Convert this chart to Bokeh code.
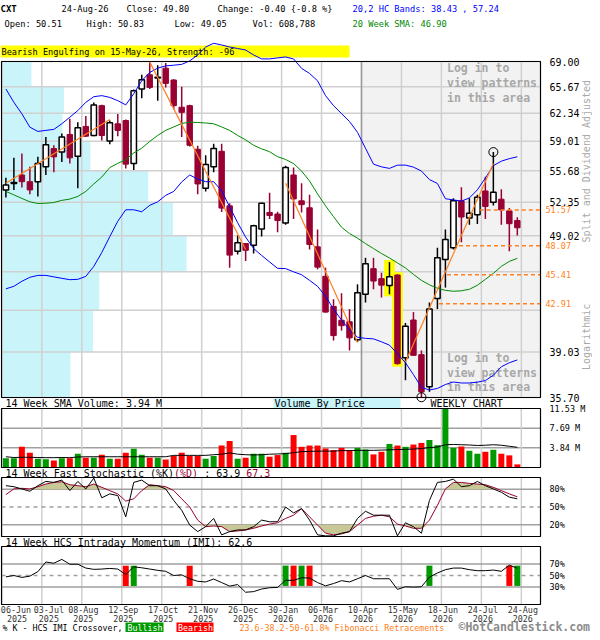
import math
from bokeh.plotting import figure
from bokeh.models import Range1d, ColumnDataSource, LinearScale
from bokeh.embed import file_html
from bokeh.resources import INLINE
from bokeh.core.properties import value

MONO = "DejaVu Sans Mono"

# ---------------- data ----------------
symbol = "CXT"
last_date = "24-Aug-26"
date_labels = ["06-Jun\n2025", "03-Jul\n2025", "08-Aug\n2025", "12-Sep\n2025", "17-Oct\n2025",
               "21-Nov\n2025", "26-Dec\n2025", "30-Jan\n2026", "06-Mar\n2026", "10-Apr\n2026",
               "15-May\n2026", "18-Jun\n2026", "24-Jul\n2026", "24-Aug\n2026"]
weeks = list(range(65))

open_ = [53.64, 54.32, 55.23, 54.51, 54.51, 56.13, 58.17, 57.78, 59.80, 57.30,
         60.75, 59.68, 63.28, 59.03, 61.06, 61.46, 56.49, 65.38, 67.22, 66.80,
         68.10, 66.54, 63.08, 63.28, 58.09, 53.82, 56.13, 57.86, 51.99, 47.56,
         48.28, 48.12, 49.69, 51.32, 51.16, 50.26, 55.23, 52.50, 51.79, 47.97,
         45.28, 42.68, 41.54, 41.42, 39.99, 43.71, 45.96, 45.07, 44.47, 45.39,
         38.59, 41.56, 38.83, 36.46, 43.35, 46.80, 47.88, 52.50, 50.76, 51.08,
         53.53, 52.36, 52.67, 51.48, 50.51]
high = [54.94, 57.12, 57.60, 56.13, 57.23, 59.51, 58.54, 59.90, 61.66, 61.26,
        62.00, 63.68, 63.40, 61.46, 62.26, 61.58, 65.30, 67.22, 68.90, 68.50,
        68.80, 66.63, 65.67, 63.40, 58.50, 57.40, 58.73, 58.73, 52.26, 49.04,
        48.33, 50.10, 52.30, 53.35, 51.39, 56.24, 56.06, 54.34, 53.12, 49.62,
        46.05, 43.29, 43.80, 42.46, 44.57, 46.95, 46.95, 45.60, 46.56, 45.45,
        41.32, 42.21, 39.15, 43.01, 47.88, 49.62, 52.78, 53.91, 52.78, 53.12,
        55.05, 57.77, 53.71, 51.76, 50.83]
low = [52.84, 53.64, 53.88, 53.19, 52.94, 55.23, 55.52, 56.67, 56.49, 53.81,
       59.51, 59.60, 59.11, 58.65, 59.58, 55.95, 55.77, 64.19, 65.38, 63.90,
       65.58, 62.80, 59.51, 58.40, 53.19, 53.46, 55.52, 51.36, 46.05, 47.26,
       46.65, 47.35, 48.96, 50.66, 49.36, 50.10, 50.66, 51.32, 47.72, 45.90,
       42.17, 39.92, 40.70, 39.15, 39.79, 43.01, 44.14, 43.43, 43.71, 38.08,
       36.93, 38.76, 35.72, 36.10, 42.46, 44.29, 47.72, 48.41, 50.10, 50.17,
       50.66, 52.03, 50.10, 47.56, 49.05]
close = [54.16, 54.43, 54.51, 53.64, 56.49, 58.62, 57.23, 59.51, 57.12, 60.60,
         59.60, 63.36, 59.68, 61.18, 60.28, 56.42, 65.16, 66.57, 65.58, 66.90,
         66.10, 63.28, 62.45, 58.54, 54.27, 56.39, 58.17, 51.76, 47.20, 48.35,
         47.65, 50.00, 52.26, 51.02, 50.52, 56.06, 52.70, 52.11, 48.20, 46.10,
         42.21, 40.31, 41.10, 40.13, 43.85, 46.41, 44.86, 44.50, 45.25, 38.15,
         41.06, 38.78, 36.10, 42.46, 46.95, 48.66, 52.50, 50.86, 51.25, 52.88,
         51.93, 53.39, 51.58, 50.20, 49.80]
band_upper = [65.38, 63.69, 62.27, 60.66, 60.16, 60.28, 60.40, 61.07, 61.86, 62.67,
              63.69, 64.40, 64.53, 64.31, 63.90, 63.37, 64.78, 66.44, 67.53, 68.11,
              68.41, 68.50, 68.61, 69.08, 69.89, 70.99, 71.51, 71.27, 70.99, 70.78,
              70.57, 69.89, 69.35, 69.35, 69.49, 69.62, 69.35, 68.08, 67.40, 66.44,
              64.53, 63.28, 62.30, 61.34, 60.05, 58.21, 56.42, 56.12, 55.95, 56.31,
              56.31, 56.09, 55.66, 54.74, 54.32, 52.72, 52.60, 52.47, 52.80, 53.64,
              54.90, 56.25, 56.75, 57.03, 57.24]
band_lower = [44.18, 44.40, 44.84, 45.19, 45.36, 45.36, 45.23, 45.10, 44.98, 45.01,
              45.27, 46.17, 47.44, 48.94, 50.44, 51.59, 51.59, 51.39, 52.04, 52.40,
              53.07, 53.48, 54.48, 55.23, 54.80, 54.51, 54.51, 53.54, 51.89, 50.30,
              48.90, 47.81, 47.17, 46.57, 45.99, 45.97, 45.68, 45.42, 44.92, 44.40,
              43.54, 42.46, 41.56, 40.76, 40.18, 40.09, 40.05, 39.82, 39.56, 38.90,
              38.22, 37.34, 36.41, 36.23, 36.34, 36.62, 36.80, 36.73, 36.73, 36.79,
              36.91, 37.29, 37.92, 38.22, 38.43]
sma20 = [53.48, 53.12, 52.75, 52.40, 52.23, 52.26, 52.33, 52.55, 52.68, 52.96,
         53.48, 54.27, 55.01, 56.04, 56.50, 56.92, 57.67, 58.21, 58.99, 59.69,
         60.28, 60.69, 61.10, 61.26, 61.22, 61.16, 61.07, 60.69, 60.28, 59.69,
         59.17, 58.54, 58.14, 57.81, 57.25, 56.94, 56.48, 55.66, 54.58, 53.22,
         51.99, 50.89, 49.86, 49.24, 48.80, 48.28, 47.81, 47.35, 46.94, 46.48,
         46.03, 45.45, 44.92, 44.53, 44.23, 44.05, 43.97, 44.01, 44.14, 44.49,
         45.01, 45.54, 46.17, 46.62, 46.90]
volume_m = [1.79, 1.79, 4.04, 2.88, 1.73, 1.60, 1.35, 1.79, 1.79, 2.69,
            1.92, 1.92, 2.50, 1.73, 1.73, 2.88, 3.65, 2.50, 1.92, 1.92,
            1.54, 2.24, 2.88, 2.24, 2.24, 1.73, 2.24, 4.29, 5.19, 1.73,
            1.92, 2.69, 2.69, 2.11, 2.43, 2.88, 6.34, 4.04, 4.29, 4.29,
            3.72, 3.40, 3.84, 3.40, 3.84, 3.52, 2.56, 3.07, 4.61, 4.29,
            4.04, 4.48, 4.80, 5.38, 4.36, 11.45, 3.84, 4.10, 3.27, 2.69,
            3.07, 3.46, 2.69, 2.37, 0.608788]
vol_sma14 = [2.10, 1.95, 2.00, 2.00, 1.95, 1.92, 1.92, 1.95, 1.92, 2.05,
             2.10, 2.10, 2.10, 2.10, 2.10, 2.10, 2.10, 2.10, 2.10, 2.10,
             2.10, 2.37, 2.37, 2.37, 2.37, 2.37, 2.50, 2.60, 2.85, 2.60,
             2.50, 2.45, 2.50, 2.60, 2.65, 2.70, 2.90, 3.10, 3.15, 3.20,
             3.20, 3.20, 3.30, 3.30, 3.35, 3.35, 3.35, 3.40, 3.45, 3.50,
             3.55, 3.60, 3.70, 3.90, 4.00, 4.45, 4.50, 4.45, 4.40, 4.30,
             4.35, 4.45, 4.35, 4.15, 3.94]
stoch_k = [86.1, 84.4, 80.6, 76.7, 86.1, 93.3, 91.7, 95.6, 77.8, 93.3,
           80.6, 98.9, 65.6, 72.2, 69.4, 33.3, 91.7, 95.6, 86.1, 86.1,
           80.6, 61.1, 44.4, 19.4, 8.3, 16.7, 30.6, 2.8, 8.3, 11.1,
           11.1, 16.7, 27.8, 25.0, 25.0, 50.0, 40.0, 47.2, 27.8, 2.8,
           1.1, 1.1, 5.6, 8.3, 30.6, 42.8, 36.1, 36.1, 36.1, 1.1,
           23.3, 16.7, 5.6, 61.1, 91.7, 93.3, 97.2, 84.4, 86.1, 93.3,
           86.1, 80.6, 75.0, 66.7, 63.9]
stoch_d = [71.1, 80.6, 81.7, 80.6, 84.4, 88.9, 91.7, 92.8, 87.8, 86.1,
           84.4, 88.9, 83.3, 77.8, 72.2, 60.0, 63.9, 77.8, 87.8, 86.1,
           84.4, 77.8, 63.9, 50.0, 27.8, 16.7, 17.8, 16.7, 8.3, 9.4,
           11.1, 13.9, 17.8, 21.1, 23.3, 30.6, 36.1, 47.2, 33.3, 19.4,
           5.6, 2.8, 4.4, 8.3, 19.4, 30.6, 34.4, 36.1, 33.3, 21.1,
           17.8, 13.9, 13.9, 27.8, 52.8, 80.6, 91.7, 91.7, 90.0, 88.9,
           87.8, 83.3, 77.8, 72.2, 67.3]
imi = [47.7, 50.0, 46.7, 48.9, 56.7, 73.3, 71.1, 77.8, 69.4, 69.4,
       62.8, 60.6, 61.1, 62.2, 61.1, 51.7, 65.0, 63.3, 61.1, 58.9,
       57.2, 50.0, 51.1, 44.4, 40.0, 38.9, 43.9, 37.8, 31.7, 34.4,
       21.1, 22.2, 26.7, 28.9, 29.4, 41.7, 41.7, 46.1, 45.6, 37.8,
       32.2, 36.1, 41.1, 38.9, 44.4, 50.0, 44.4, 44.4, 44.4, 26.1,
       30.6, 30.0, 30.6, 47.2, 54.4, 60.0, 62.8, 62.8, 60.0, 58.3,
       58.3, 59.4, 57.2, 67.8, 62.6]
cross_weeks = [15, 16, 23, 35, 36, 37, 38, 53, 63, 64]
cross_kind = ["bear", "bull", "bear", "bull", "bear", "bull", "bear", "bull", "bear", "bull"]

price_ticks = [35.70, 39.03, 42.36, 45.69, 49.02, 52.35, 55.68, 59.01, 62.34, 65.67, 69.00]
hidden_price_ticks = [42.36, 45.69]
vbp_volume_m = [13.1, 17.4, 18.6, 35.2, 32.6, 27.9, 16.9, 11.6, 11.9, 5.7]   # bottom band -> top band
fib_levels = [51.57, 48.07, 45.41, 42.91]
fib_from_week = [59.3, 56.7, 55.2, 54.2]
trend_w0 = [0, 18, 35, 50]
trend_p0 = [54.34, 68.95, 54.34, 38.27]
trend_w1 = [13, 30, 44, 61]
trend_p1 = [61.58, 47.72, 39.79, 56.50]
pattern_weeks = [48, 49]
pattern_text = "Bearish Engulfing on 15-May-26, Strength: -96"
extreme_weeks = [61, 52]
locked_from_week = 44.5
vol_ticks = [3.84, 7.69, 11.53]
sto_ticks = [20, 50, 80]
imi_ticks = [30, 50, 70]

# ---------------- styles / layout ----------------
MAROON = "#990033"
UPV = "#009900"
DNV = "#ff0000"
BLUE = "#0000ff"
GREEN = "#008800"
ORANGE = "#ff8020"
GRID = "#d0d0d0"
DGRID = "#a0a0a0"
CYAN = "#c8f4fa"
KHAKI = "#c8c896"

W, H = 592, 632
BOX_L, BOX_R = 1, 540
PRICE_BOX = (61, 397)
VOL_BOX = (408, 467)
STO_BOX = (477, 536)
IMI_BOX = (546, 604)
X0, X1 = -0.55, 66.9
tick_pos = [5 * k - 0.5 for k in range(len(date_labels))]

upp = (X1 - X0) / (BOX_R - BOX_L)
x_range = Range1d(X0 - BOX_L * upp, X1 + (W - BOX_R) * upp)


def lin_range(v_top, v_bot, box):
    y_top, y_bot = box
    per = (v_top - v_bot) / (y_bot - y_top)
    return Range1d(v_bot - (H - y_bot) * per, v_top + y_top * per)


def log_range(v_top, v_bot, box):
    r = lin_range(math.log(v_top), math.log(v_bot), box)
    return Range1d(math.exp(r.start), math.exp(r.end))


p = figure(width=W, height=H, x_range=x_range,
           y_range=log_range(price_ticks[-1], price_ticks[0], PRICE_BOX),
           x_axis_type=None, y_axis_type="log", y_axis_location=None, title=None,
           toolbar_location=None, output_backend="svg", min_border=0)
p.grid.visible = False
p.outline_line_color = None
p.background_fill_color = "white"
p.border_fill_color = "white"
p.extra_x_ranges = {"px": Range1d(0, W)}
p.extra_x_scales = {"px": LinearScale()}
p.extra_y_ranges = {"px": Range1d(-H, 0),
                    "vol": lin_range(vol_ticks[-1], 0, VOL_BOX),
                    "sto": lin_range(100, 0, STO_BOX),
                    "imi": lin_range(100, 0, IMI_BOX)}
p.extra_y_scales = {"px": LinearScale(), "vol": LinearScale(), "sto": LinearScale(),
                    "imi": LinearScale()}


def txt(x, y, s, size="10px", color="black", bold=False, align="left", baseline="middle",
        angle=0.0, xr="px", yr="px"):
    kw = dict(text_font=value(MONO), text_font_size=size, text_color=color,
              text_font_style="bold" if bold else "normal", text_align=align,
              text_baseline=baseline, angle=angle)
    if xr:
        kw["x_range_name"] = xr
    if yr:
        kw["y_range_name"] = yr
    yy = -y if yr == "px" else y
    p.text(x=[x], y=[yy], text=[s], **kw)


def pxbox(l, r, t, b, color):
    p.quad(left=[l], right=[r], top=[-t], bottom=[-b], fill_color=color, line_color=None,
           x_range_name="px", y_range_name="px")


# ---------------- header ----------------
chg = close[-1] - close[-2]
pct = chg / close[-2] * 100
txt(0, 8, symbol, "9px", bold=True)
txt(61, 8, last_date, "8.7px")
txt(126, 8, "Close: %.2f" % close[-1], "8.7px")
txt(217, 8, "Change: %.2f {%.1f %%}" % (chg, pct), "8.7px")
txt(352, 8, "20,2 HC Bands: %.2f , %.2f" % (band_lower[-1], band_upper[-1]), "8.7px", BLUE)
txt(4, 23.5, "Open: %.2f" % open_[-1], "8.7px")
txt(86, 23.5, "High: %.2f" % high[-1], "8.7px")
txt(174, 23.5, "Low: %.2f" % low[-1], "8.7px")
txt(252, 23.5, "Vol: {:,}".format(int(round(volume_m[-1] * 1e6))), "8.7px")
txt(352, 23.5, "20 Week SMA: %.2f" % sma20[-1], "8.7px", GREEN)
pxbox(0, 349, 45, 57, "#ffff00")
txt(1, 51.5, pattern_text, "8.6px")

# ---------------- price panel ----------------
VBP_UNITS_PER_M = 0.658
p.quad(left=[X0] * len(vbp_volume_m), right=[X0 + v * VBP_UNITS_PER_M for v in vbp_volume_m],
       bottom=price_ticks[:-1], top=price_ticks[1:], fill_color=CYAN, line_color=None, level="image")
p.quad(left=[locked_from_week], right=[X1], bottom=[price_ticks[0]], top=[price_ticks[-1]],
       fill_color="#f2f2f2", line_color=None, level="image")
n = len(price_ticks)
p.segment(x0=[X0] * n, y0=price_ticks, x1=[X1] * n, y1=price_ticks,
          line_color=GRID, line_width=1.5, level="underlay")
nt = len(tick_pos)
p.segment(x0=tick_pos, y0=[price_ticks[0]] * nt, x1=tick_pos, y1=[price_ticks[-1]] * nt,
          line_color=GRID, line_width=1.5, level="underlay")
p.segment(x0=[locked_from_week], y0=[price_ticks[0]], x1=[locked_from_week], y1=[price_ticks[-1]],
          line_color="#9a9a9a", line_width=1.5, level="underlay")

p.text(x=[55.2] * 6, y=[68.15, 66.18, 64.28, 38.60, 37.49, 36.41],
       text=["Log in to", "view patterns", "in this area"] * 2,
       text_font=value(MONO), text_font_size="11.5px", text_font_style="bold",
       text_color="#a8a8a8", text_baseline="middle", text_align="left")

p.quad(left=[w - 0.68 for w in pattern_weeks], right=[w + 0.68 for w in pattern_weeks],
       bottom=[low[w] / 1.004 for w in pattern_weeks], top=[high[w] * 1.004 for w in pattern_weeks],
       fill_color="#ffff00", line_color=None)

up = [c >= o for o, c in zip(open_, close)]
csrc = ColumnDataSource(dict(x=weeks, h=high, l=low, wc=["black" if u else MAROON for u in up]))
p.segment(x0="x", y0="l", x1="x", y1="h", line_color="wc", line_width=1.5, source=csrc)
ui = [i for i in weeks if up[i]]
di = [i for i in weeks if not up[i]]
p.vbar(x=di, top=[open_[i] for i in di], bottom=[close[i] for i in di], width=0.68,
       fill_color=MAROON, line_color=MAROON, line_width=1)
p.vbar(x=ui, top=[close[i] for i in ui], bottom=[open_[i] for i in ui], width=0.68,
       fill_color="white", line_color="black", line_width=1.5)

p.line(weeks, band_upper, line_color=BLUE, line_width=1)
p.line(weeks, band_lower, line_color=BLUE, line_width=1)
p.line(weeks, sma20, line_color=GREEN, line_width=1)
p.segment(x0=trend_w0, y0=trend_p0, x1=trend_w1, y1=trend_p1, line_color=ORANGE, line_width=1.2)
p.segment(x0=fib_from_week, y0=fib_levels, x1=[X1] * len(fib_levels), y1=fib_levels,
          line_color=ORANGE, line_width=1.5, line_dash="4 3")
p.scatter(x=extreme_weeks, y=[high[extreme_weeks[0]], low[extreme_weeks[1]]], marker="circle",
          size=9, fill_color=None, line_color="black", line_width=1)

# right-hand price labels
for t in price_ticks:
    if t not in hidden_price_ticks:
        txt(549, t, "%.2f" % t, "10px", baseline="alphabetic", yr=None)
for lv in fib_levels:
    txt(545, lv, "%.2f" % lv, "8.5px", ORANGE, yr=None)
txt(586, 56.75, "Split and Dividend Adjusted", "10px", "#a8a8a8", align="center",
    angle=math.pi / 2, yr=None)
txt(586, 40.21, "Logarithmic", "10px", "#a8a8a8", align="center", angle=math.pi / 2, yr=None)

# ---------------- volume panel ----------------
txt(5, 403, "14 Week SMA Volume: %.2f M" % vol_sma14[-1], "10px")
pxbox(273, 400, 397.5, 407.5, CYAN)
txt(274, 403, "Volume By Price", "10px")
txt(430, 403, "WEEKLY CHART", "10px")

p.segment(x0=[X0] * 2, y0=vol_ticks[:2], x1=[X1] * 2, y1=vol_ticks[:2], line_color=DGRID,
          line_width=1.5, level="underlay", y_range_name="vol")
p.segment(x0=tick_pos, y0=[0] * nt, x1=tick_pos, y1=[vol_ticks[-1]] * nt, line_color=GRID,
          line_width=1.5, level="underlay", y_range_name="vol")
p.vbar(x=weeks, top=volume_m, bottom=0, width=0.75, fill_color=[UPV if u else DNV for u in up],
       line_color=None, y_range_name="vol")
p.line(weeks, vol_sma14, line_color="black", line_width=1, y_range_name="vol")
for t in vol_ticks:
    txt(549, t, "%.2f M" % t, "8.5px", yr="vol")

# ---------------- stochastic panel ----------------
cw = 6.02
txt(5, 472.5, "14 Week Fast Stochastic (%K)", "10px")
txt(5 + 28 * cw, 472.5, "(%D)", "10px", MAROON)
txt(5 + 33 * cw, 472.5, ": %.1f" % stoch_k[-1], "10px")
txt(5 + 40 * cw, 472.5, "%.1f" % stoch_d[-1], "10px", MAROON)

p.segment(x0=tick_pos, y0=[0] * nt, x1=tick_pos, y1=[100] * nt, line_color=GRID,
          line_width=1.5, level="underlay", y_range_name="sto")
p.segment(x0=[X0] * 2, y0=[20, 80], x1=[X1] * 2, y1=[20, 80], line_color=DGRID,
          line_width=1.5, level="underlay", y_range_name="sto")
p.segment(x0=[X0], y0=[50], x1=[X1], y1=[50], line_color=DGRID, line_width=1.5,
          line_dash="4 4", level="underlay", y_range_name="sto")
p.varea(x=weeks, y1=[80] * len(weeks), y2=[max(d, 80) for d in stoch_d], fill_color=KHAKI,
        y_range_name="sto")
p.varea(x=weeks, y1=[min(d, 20) for d in stoch_d], y2=[20] * len(weeks), fill_color=KHAKI,
        y_range_name="sto")
p.line(weeks, stoch_d, line_color=MAROON, line_width=1, y_range_name="sto")
p.line(weeks, stoch_k, line_color="black", line_width=1, y_range_name="sto")
for t in sto_ticks:
    txt(549, t, "%d%%" % t, "8.5px", yr="sto")

# ---------------- IMI panel ----------------
txt(5, 541.5, "14 Week HCS Intraday Momentum (IMI): %.1f" % imi[-1], "10px")
p.segment(x0=tick_pos, y0=[0] * nt, x1=tick_pos, y1=[100] * nt, line_color=GRID,
          line_width=1.5, level="underlay", y_range_name="imi")
p.segment(x0=[X0] * 2, y0=[30, 70], x1=[X1] * 2, y1=[30, 70], line_color=DGRID,
          line_width=1.5, level="underlay", y_range_name="imi")
p.segment(x0=[X0], y0=[50], x1=[X1], y1=[50], line_color=DGRID, line_width=1.5,
          line_dash="4 4", level="underlay", y_range_name="imi")
p.vbar(x=cross_weeks, bottom=32, top=67, width=0.75,
       fill_color=[UPV if k == "bull" else DNV for k in cross_kind], line_color=None,
       y_range_name="imi")
p.line(weeks, imi, line_color="black", line_width=1, y_range_name="imi")
for t in imi_ticks:
    txt(549, t, "%d%%" % t, "8.5px", yr="imi")

# date labels (the first is kept inside the chart, the second nudged clear of it)
for k, (tp, lb) in enumerate(zip(tick_pos, date_labels)):
    l1, l2 = lb.split("\n")
    if k == 0:
        txt(15.5, 609.5, l1, "8.4px", "#333333", align="center")
        txt(16.5, 617.5, l2, "8.4px", "#333333", align="center")
    else:
        xs = tp + (7.0 if k == 1 else 1.5) * upp
        txt(xs, 609.5, l1, "8.4px", "#333333", align="center", xr=None)
        txt(xs, 617.5, l2, "8.4px", "#333333", align="center", xr=None)

# legend row
txt(2, 627, "% K - HCS IMI Crossover,", "8.3px")
pxbox(125, 163, 622, 631.5, UPV)
txt(127, 627, "Bullish", "8.3px", "white")
pxbox(176, 213, 622, 631.5, DNV)
txt(177.5, 627, "Bearish", "8.3px", "white")
txt(239, 627, "23.6-38.2-50-61.8% Fibonacci Retracements", "8.3px", ORANGE)
txt(458, 626, "\u00a9HotCandlestick.com", "11.5px", "#8c8c8c", bold=True)

# panel frames
boxes = [PRICE_BOX, VOL_BOX, STO_BOX, IMI_BOX]
p.quad(left=[BOX_L] * 4, right=[BOX_R] * 4, top=[-b[0] for b in boxes], bottom=[-b[1] for b in boxes],
       fill_color=None, line_color="black", line_width=1.2, x_range_name="px", y_range_name="px")

open("out.html", "w").write(file_html(p, INLINE))
